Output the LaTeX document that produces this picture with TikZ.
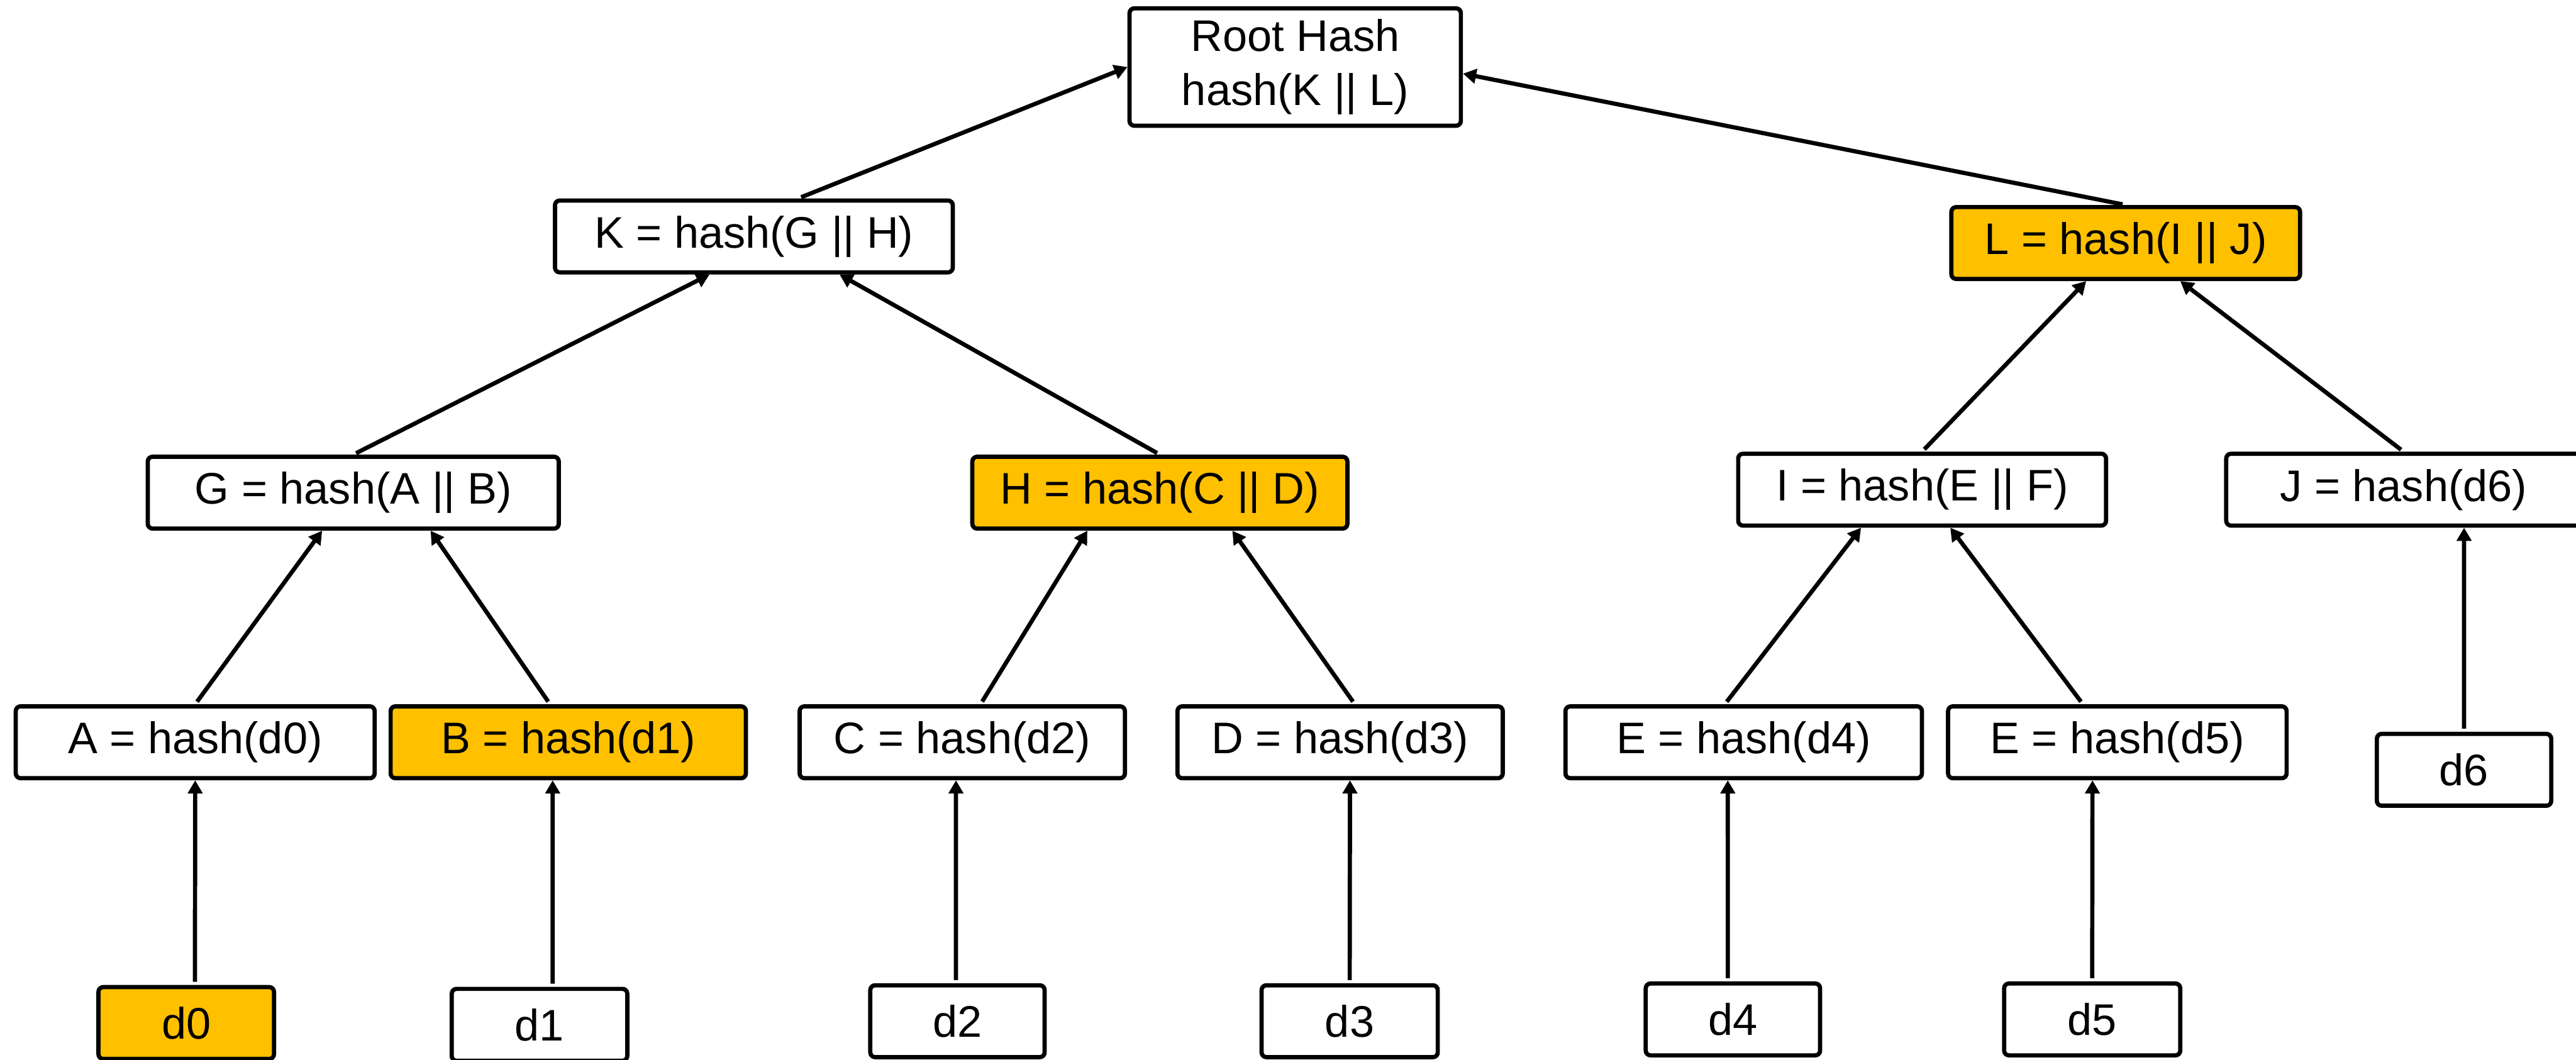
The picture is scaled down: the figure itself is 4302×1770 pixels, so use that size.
\documentclass[tikz,border=0pt]{standalone}
\usepackage{fontspec}
\setmainfont{Liberation Sans}
\usetikzlibrary{arrows.meta}
\definecolor{hl}{HTML}{FFC000}
\tikzset{
  box/.style={draw=black, line width=2pt, rounded corners=0.08cm, fill=white,
    inner sep=0pt, font=\fontsize{21pt}{25.5pt}\selectfont, align=center,
    minimum height=1.2cm},
  hlbox/.style={box, fill=hl},
  conn/.style={line width=2pt, -{Triangle[length=0.22cm,width=0.24cm]},
    shorten <=1.5pt},
}
\begin{document}
\begin{tikzpicture}[x=0.01cm,y=-0.01cm]
\useasboundingbox (0,0) rectangle (4302,1770);
\clip (0,0) rectangle (4302,1770);

% root
\node[box, minimum width=5.53cm, minimum height=1.96cm] (root) at (2163,112) {Root Hash\\hash(K || L)};

% level 2
\node[box,   minimum width=6.64cm] (K) at (1259,395) {K = hash(G || H)};
\node[hlbox, minimum width=5.82cm] (L) at (3550,406) {L = hash(I || J)};

% level 1
\node[box,   minimum width=6.86cm] (G) at (590,823)  {G = hash(A || B)};
\node[hlbox, minimum width=6.26cm] (H) at (1937,823) {H = hash(C || D)};
\node[box,   minimum width=6.14cm] (I) at (3210,818) {I = hash(E || F)};
\node[box,   minimum width=5.92cm] (J) at (4014,818) {J = hash(d6)};

% leaf hashes
\node[box,   minimum width=5.99cm] (A)  at (326,1240)  {A = hash(d0)};
\node[hlbox, minimum width=5.93cm] (B)  at (949,1240)  {B = hash(d1)};
\node[box,   minimum width=5.43cm] (C)  at (1607,1240) {C = hash(d2)};
\node[box,   minimum width=5.43cm] (D)  at (2238,1240) {D = hash(d3)};
\node[box,   minimum width=5.95cm] (E4) at (2912,1240) {E = hash(d4)};
\node[box,   minimum width=5.65cm] (E5) at (3536,1240) {E = hash(d5)};

% data blocks
\node[hlbox, minimum width=2.93cm] (d0) at (311,1709)  {d0};
\node[box,   minimum width=2.93cm] (d1) at (901,1712)  {d1};
\node[box,   minimum width=2.91cm] (d2) at (1599,1706) {d2};
\node[box,   minimum width=2.94cm] (d3) at (2254,1706) {d3};
\node[box,   minimum width=2.91cm] (d4) at (2894,1703) {d4};
\node[box,   minimum width=2.94cm] (d5) at (3494,1703) {d5};
\node[box,   minimum width=2.91cm] (d6) at (4115,1286) {d6};

% data -> leaf hashes
\draw[conn] ([xshift=0.145cm]d0.north) -- (A.south);
\draw[conn] ([xshift=0.22cm]d1.north)  -- ([xshift=-0.26cm]B.south);
\draw[conn] ([xshift=-0.025cm]d2.north) -- ([xshift=-0.105cm]C.south);
\draw[conn] (d3.north) -- ([xshift=0.165cm]D.south);
\draw[conn] ([xshift=-0.085cm]d4.north) -- ([xshift=-0.265cm]E4.south);
\draw[conn] (d5.north) -- ([xshift=-0.415cm]E5.south);
\draw[conn] (d6.north) -- ([xshift=1.01cm]J.south);

% leaf hashes -> level 1
\draw[conn] (A.north) -- ([xshift=-0.52cm]G.south);
\draw[conn] ([xshift=-0.305cm]B.north) -- ([xshift=1.29cm]G.south);
\draw[conn] ([xshift=0.305cm]C.north) -- ([xshift=-1.21cm]H.south);
\draw[conn] ([xshift=0.245cm]D.north) -- ([xshift=1.21cm]H.south);
\draw[conn] ([xshift=-0.315cm]E4.north) -- ([xshift=-1.02cm]I.south);
\draw[conn] ([xshift=-0.575cm]E5.north) -- ([xshift=0.47cm]I.south);

% level 1 -> level 2
\draw[conn] (G.north) -- ([xshift=-0.74cm]K.south);
\draw[conn] (H.north) -- ([xshift=1.43cm]K.south);
\draw[conn] (I.north) -- ([xshift=-0.66cm]L.south);
\draw[conn] (J.north) -- ([xshift=0.91cm]L.south);

% level 2 -> root
\draw[conn] ([xshift=0.74cm]K.north) -- (root.west);
\draw[conn] (L.north) -- ([yshift=-0.11cm]root.east);
\end{tikzpicture}
\end{document}
